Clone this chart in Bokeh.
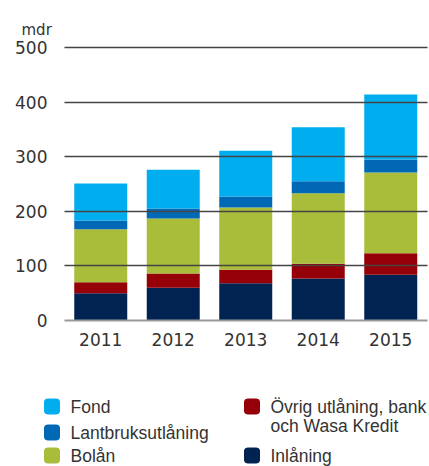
from bokeh.plotting import figure
from bokeh.models import Range1d, FixedTicker, Title, ColumnDataSource
from bokeh.layouts import column, row
from bokeh.embed import file_html
from bokeh.resources import INLINE
from bokeh.core.properties import value

years = ["2011", "2012", "2013", "2014", "2015"]
inlaning = [50, 60, 68, 77, 84]
ovrig = [20, 26, 25, 27, 39]
bolan = [97, 101, 114, 129, 148]
lantbruk = [16, 18, 20, 22, 24]
fond = [68, 71, 84, 99, 119]

series = ["Inlåning", "Övrig", "Bolån", "Lantbruk", "Fond"]
colors = ["#002351", "#960008", "#A9BD3A", "#0068B4", "#00AEEF"]
y_ticks = [0, 100, 200, 300, 400, 500]

TICK_FONT = "DejaVu Sans"
LEG_FONT = "Liberation Sans"
TXT = "#333333"

xpos = list(range(len(years)))
src = ColumnDataSource(dict(x=xpos, **{"Inlåning": inlaning, "Övrig": ovrig,
                                       "Bolån": bolan, "Lantbruk": lantbruk, "Fond": fond}))

p = figure(x_range=Range1d(-0.5, 4.507), y_range=Range1d(0, 503.66),
           width=429, height=350, output_backend="svg", toolbar_location=None,
           min_border_left=64, min_border_right=2, min_border_top=45, min_border_bottom=30)
p.outline_line_color = None
p.vbar_stack(series, x="x", width=0.731, color=colors, source=src, line_color=None)

p.title = Title(text="mdr", align="left", offset=-43, standoff=14,
                text_font=TICK_FONT, text_font_size="15px", text_color=TXT,
                text_font_style="normal")

p.xgrid.visible = False
p.ygrid.ticker = FixedTicker(ticks=y_ticks[1:])
p.ygrid.grid_line_color = "#444444"
p.ygrid.grid_line_width = 1.5
p.ygrid.level = "overlay"

p.yaxis.ticker = FixedTicker(ticks=y_ticks)
p.yaxis.axis_line_color = None
p.yaxis.major_tick_line_color = None
p.yaxis.minor_tick_line_color = None
p.yaxis.major_label_standoff = 11
p.yaxis.major_label_text_font = TICK_FONT
p.yaxis.major_label_text_font_size = "17px"
p.yaxis.major_label_text_color = TXT

p.xaxis.ticker = FixedTicker(ticks=xpos)
p.xaxis.major_label_overrides = {i: y for i, y in zip(xpos, years)}
p.xaxis.axis_line_color = "#999999"
p.xaxis.axis_line_width = 2
p.xaxis.major_tick_line_color = None
p.xaxis.minor_tick_line_color = None
p.xaxis.major_label_standoff = 6
p.xaxis.major_label_text_font = TICK_FONT
p.xaxis.major_label_text_font_size = "17px"
p.xaxis.major_label_text_color = TXT

# legend
leg_labels_1 = ["Fond", "Lantbruksutlåning", "Bolån"]
leg_colors_1 = ["#00AEEF", "#0068B4", "#A9BD3A"]
leg_labels_2 = ["Övrig utlåning, bank\noch Wasa Kredit", "Inlåning"]
leg_colors_2 = ["#960008", "#002351"]

LH = 116
lg = figure(x_range=Range1d(0, 429), y_range=Range1d(LH, 0), width=429, height=LH,
            output_backend="svg", toolbar_location=None, min_border=0,
            min_border_left=0, min_border_right=0, min_border_top=0, min_border_bottom=0)
lg.axis.visible = False
lg.grid.visible = False
lg.outline_line_color = None

rows = [56, 82, 105]
FS = "17.5px"
lg.rect(x=[51.5] * 3, y=rows, width=15, height=15, color=leg_colors_1, border_radius=3)
lg.text(x=[70] * 3, y=rows, text=leg_labels_1, text_font=value(LEG_FONT), text_font_size=FS,
        text_color=TXT, text_baseline="middle")
lg.rect(x=[251.5] * 2, y=[rows[0], rows[2]], width=15, height=15, color=leg_colors_2, border_radius=3)
lg.text(x=[270], y=[rows[0] - 10], text=leg_labels_2[:1], text_font=value(LEG_FONT),
        text_font_size=FS, text_color=TXT, text_baseline="top", text_line_height=0.97)
lg.text(x=[270], y=[rows[2]], text=leg_labels_2[1:], text_font=value(LEG_FONT),
        text_font_size=FS, text_color=TXT, text_baseline="middle")

layout = column(row(p), row(lg), spacing=0)
open("out.html", "w").write(file_html(layout, INLINE))
